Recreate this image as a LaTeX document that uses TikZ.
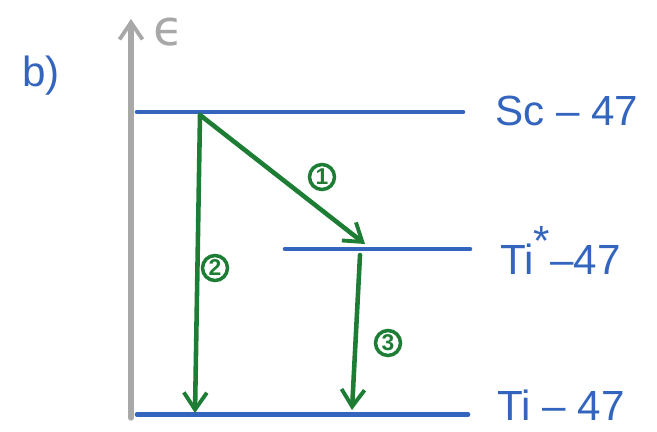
\documentclass[tikz,border=0pt]{standalone}
\usepackage{fontspec}
\setmainfont{Liberation Sans}
\newfontfamily\symfont{DejaVu Sans}
\usepackage{xcolor}
\usepackage{tikz}
\usetikzlibrary{arrows.meta, positioning, calc}

\definecolor{lvlblue}{HTML}{3465BE}
\definecolor{trgreen}{HTML}{1E7D34}
\definecolor{axisgray}{HTML}{A8A8A8}

\begin{document}
\begin{tikzpicture}[
    >={Straight Barb[length=3.4mm, width=4.6mm, line width=2.2pt]},
    every node/.style={font=\fontsize{24}{28}\selectfont},
    level/.style={draw=lvlblue, line width=2.6pt, line cap=round},
    lvllabel/.style={text=lvlblue, anchor=west, inner sep=0pt},
    trans/.style={->, draw=trgreen, line width=2.6pt, line cap=round},
    stepnum/.style={circle, draw=trgreen, text=trgreen, line width=2pt, inner sep=0pt, minimum size=0.5cm, font=\bfseries\fontsize{13}{14}\selectfont}
]
\useasboundingbox (0,0) rectangle (13.14,8.62);

% ============================================================
% 1. ENERGY AXIS
% ============================================================
\coordinate (axbot) at (2.62,0.26);
\coordinate (axtop) at (2.62,8.24);
\draw[->, draw=axisgray, line width=3pt, line cap=round] (axbot) -- (axtop);
\node[text=axisgray, font=\symfont\fontsize{28}{32}\selectfont] (eps) at (3.38,7.98) {ϵ};
\node[text=lvlblue, font=\fontsize{24}{28}\selectfont] (part) at (0.82,7.10) {b)};

% ============================================================
% 2. LEVELS
% ============================================================
\coordinate (sc-l) at (2.74,6.38);  \coordinate (sc-r) at (9.26,6.38);
\coordinate (tis-l) at (5.70,3.64); \coordinate (tis-r) at (9.40,3.64);
\coordinate (ti-l) at (2.74,0.33);  \coordinate (ti-r) at (9.36,0.33);

\draw[level] (sc-l) -- (sc-r);
\draw[level] (tis-l) -- (tis-r);
\draw[level] (ti-l) -- (ti-r);

\node[lvllabel] (sc)  at (9.90,6.40) {Sc – 47};
\node[lvllabel] (tis) at (10.00,3.62) {Ti\raisebox{0.45em}{*}–47};
\node[lvllabel] (ti)  at (9.94,0.52) {Ti – 47};

% ============================================================
% 3. TRANSITIONS
% ============================================================
\coordinate (start) at (4.00,6.32);
\coordinate (end1) at (7.30,3.74);
\coordinate (end2) at (3.90,0.36);
\coordinate (start3) at (7.20,3.52);
\coordinate (end3) at (7.04,0.42);

\draw[trans] (start) -- (end1);
\draw[trans] (start) -- (end2);
\draw[trans] (start3) -- (end3);

\node[stepnum] (n1) at (6.44,5.08) {1};
\node[stepnum] (n2) at (4.30,3.26) {2};
\node[stepnum] (n3) at (7.76,1.76) {3};

\end{tikzpicture}
\end{document}
